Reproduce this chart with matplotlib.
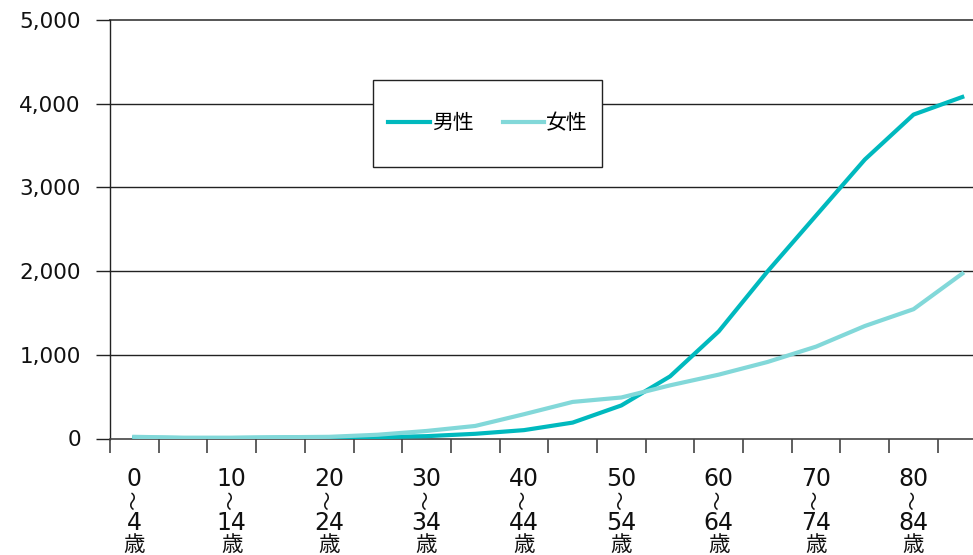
import matplotlib
matplotlib.use("Agg")
import matplotlib.pyplot as plt
from matplotlib.ticker import FuncFormatter
from matplotlib.patches import Rectangle
from matplotlib.transforms import blended_transform_factory

plt.rcParams['font.family'] = ['DejaVu Sans', 'Noto Sans CJK JP']

age_groups = ["0-4", "5-9", "10-14", "15-19", "20-24", "25-29", "30-34", "35-39",
              "40-44", "45-49", "50-54", "55-59", "60-64", "65-69", "70-74",
              "75-79", "80-84", "85+"]
male = [10, 5, 5, 10, 15, 15, 28, 56, 100, 190, 395, 742, 1280, 1995, 2665,
        3333, 3870, 4080]
female = [20, 10, 10, 15, 20, 45, 90, 150, 290, 437, 490, 635, 763, 914, 1098,
          1344, 1545, 1970]
label_from = ["0", "10", "20", "30", "40", "50", "60", "70", "80"]
label_to = ["4", "14", "24", "34", "44", "54", "64", "74", "84"]
label_unit = "歳"
label_wave = "〜"
series_names = ["男性", "女性"]
colors = ["#00B9BE", "#82D8D9"]

W, H = 973, 555
fig = plt.figure(figsize=(W / 100, H / 100), dpi=100)
left, bottom, top = 110, 438.5, 20
width = 48.7 * len(age_groups)
ax = fig.add_axes([left / W, (H - bottom) / H, width / W, (bottom - top) / H])

xs = [i + 0.5 for i in range(len(age_groups))]
ax.plot(xs, male, color=colors[0], lw=3.0, label=series_names[0], zorder=3)
ax.plot(xs, female, color=colors[1], lw=3.0, label=series_names[1], zorder=3)

ax.set_xlim(0, len(age_groups))
ax.set_ylim(0, 5000)
ax.set_yticks(range(0, 5001, 1000))
ax.yaxis.set_major_formatter(FuncFormatter(lambda v, p: f"{int(v):,}"))
for v in range(1000, 5001, 1000):
    ax.axhline(v, color="#222222" if v < 5000 else "#555555",
               lw=1.0 if v < 5000 else 1.4, zorder=1, clip_on=False)

ax.set_xticks(range(0, len(age_groups) + 1))
ax.set_xticklabels([])

for s in ["top", "right"]:
    ax.spines[s].set_visible(False)
ax.spines["left"].set_color("#222222")
ax.spines["bottom"].set_color("#444444")
ax.spines["left"].set_linewidth(1.0)
ax.spines["bottom"].set_linewidth(1.2)

ax.tick_params(axis="y", direction="out", length=10, width=1.0, colors="#222222",
               labelsize=15.5, pad=11, labelcolor="#111111")
ax.tick_params(axis="x", which="major", direction="out", length=10, width=1.2,
               colors="#444444")

# multi-line category labels (every other age group)
tr = blended_transform_factory(ax.transData, fig.transFigure)
for k in range(len(label_from)):
    xc = 2 * k + 0.5
    ax.text(xc, 1 - 478.5 / H, label_from[k], transform=tr, ha="center", va="center",
            fontsize=17, color="#111111")
    ax.text(xc, 1 - 500.5 / H, label_wave, transform=tr, ha="center", va="center",
            fontsize=14, rotation=90, color="#111111",
            family=['Noto Sans CJK JP'])
    ax.text(xc, 1 - 523.5 / H, label_to[k], transform=tr, ha="center", va="center",
            fontsize=17, color="#111111")
    ax.text(xc, 1 - 545 / H, label_unit, transform=tr, ha="center", va="center",
            fontsize=15.5, color="#111111", family=['Noto Sans CJK JP'])

# legend box
fig.patches.append(Rectangle((373 / W, 1 - 167 / H), (602 - 373) / W, (167 - 80) / H,
                             transform=fig.transFigure, facecolor="white",
                             edgecolor="#222222", lw=1.0, zorder=4))
leg = fig.legend(loc="center left", bbox_to_anchor=(388 / W, 1 - 123 / H),
                 ncol=2, frameon=False, prop={'family': ['Noto Sans CJK JP'], 'size': 15},
                 handlelength=2.0, handletextpad=0.1, columnspacing=1.4,
                 borderpad=0, borderaxespad=0)
leg.set_zorder(5)

fig.savefig("out.png", dpi=100)
